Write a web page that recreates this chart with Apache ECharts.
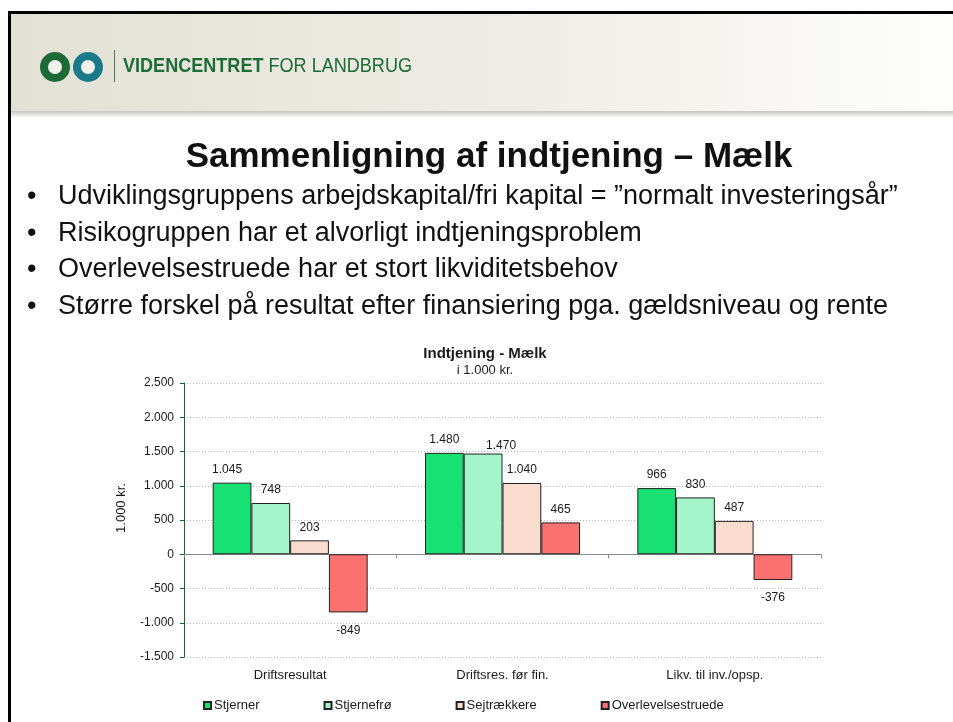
<!DOCTYPE html>
<html><head><meta charset="utf-8">
<script src="https://cdn.jsdelivr.net/npm/echarts@6/dist/echarts.min.js"></script>
<style>html,body{margin:0;padding:0;background:#fff;}#c{width:953px;height:722px;}</style>
</head><body><div id="c"></div>
<script>
// ---- data ----
const categories = ['Driftsresultat', 'Driftsres. før fin.', 'Likv. til inv./opsp.'];
const seriesNames = ['Stjerner', 'Stjernefrø', 'Sejtrækkere', 'Overlevelsestruede'];
const stjerner = [1045, 1480, 966];
const stjernefro = [748, 1470, 830];
const sejtraekkere = [203, 1040, 487];
const overlevelsestruede = [-849, 465, -376];
const yMin = -1500, yMax = 2500, yStep = 500;
const chartTitle = 'Indtjening - Mælk';
const chartSubtitle = 'i 1.000 kr.';
const yAxisName = '1.000 kr.';
const slideTitle = 'Sammenligning af indtjening – Mælk';
const bullets = [
  'Udviklingsgruppens arbejdskapital/fri kapital = ”normalt investeringsår”',
  'Risikogruppen har et alvorligt indtjeningsproblem',
  'Overlevelsestruede har et stort likviditetsbehov',
  'Større forskel på resultat efter finansiering pga. gældsniveau og rente'
];
const headerBold = 'VIDENCENTRET';
const headerRegular = ' FOR LANDBRUG';

// ---- styles ----
const colors = ['#19e072', '#a4f5c9', '#f9dccd', '#fd7171'];
const FONT = '"Liberation Sans", Arial, sans-serif';
const labelNudge = { '0-0': [-5, 0], '1-1': [18, 5] }; // series-index: [dx, dy]

function fmt(v) {
  const s = String(Math.abs(v)).replace(/\B(?=(\d{3})+(?!\d))/g, '.');
  return (v < 0 ? '-' : '') + s;
}

const allValues = [stjerner, stjernefro, sejtraekkere, overlevelsestruede];

const series = allValues.map((vals, si) => ({
  name: seriesNames[si],
  type: 'bar',
  xAxisIndex: 0,
  barGap: '0%',
  barCategoryGap: '27%',
  itemStyle: { color: colors[si], borderColor: '#222', borderWidth: 1 },
  data: vals.map((v, i) => {
    const nudge = labelNudge[si + '-' + i] || [0, 0];
    return {
      value: v,
      label: {
        position: v < 0 ? 'bottom' : 'top',
        distance: v < 0 ? 12 : 7,
        offset: nudge
      }
    };
  }),
  label: {
    show: true,
    formatter: p => fmt(p.value),
    fontFamily: FONT, fontSize: 12, color: '#1a1a1a'
  }
}));

const bulletGraphics = [];
bullets.forEach((b, i) => {
  const cy = 197 + i * 36.4;
  bulletGraphics.push({ type: 'text', x: 27, y: cy, style: { text: '•', font: '27px ' + FONT, fill: '#111', verticalAlign: 'middle' } });
  bulletGraphics.push({ type: 'text', x: 58, y: cy, style: { text: b, font: '27px ' + FONT, fill: '#111', verticalAlign: 'middle' } });
});

const chart = echarts.init(document.getElementById('c'), null, { renderer: 'canvas' });
chart.setOption({
  animation: false,
  backgroundColor: '#fff',
  textStyle: { fontFamily: FONT },
  title: {
    text: chartTitle, subtext: chartSubtitle,
    left: 480, top: 341, textAlign: 'center', itemGap: 3,
    textStyle: { fontFamily: FONT, fontSize: 15, fontWeight: 'bold', color: '#1a1a1a' },
    subtextStyle: { fontFamily: FONT, fontSize: 13, color: '#1a1a1a' }
  },
  legend: {
    data: seriesNames, left: 198, top: 694, icon: 'rect',
    itemWidth: 7, itemHeight: 7, itemGap: 64,
    textStyle: { fontFamily: FONT, fontSize: 13, color: '#1a1a1a', padding: [0, 0, 0, -2] }
  },
  grid: { left: 184, right: 132, top: 383, bottom: 65, containLabel: false },
  xAxis: [
    {
      type: 'category', data: categories, position: 'bottom',
      axisLine: { onZero: true, lineStyle: { color: '#888', width: 1 } },
      axisTick: { show: true, length: 4, lineStyle: { color: '#888' } },
      axisLabel: { show: false }, splitLine: { show: false }
    },
    {
      type: 'category', data: categories, position: 'bottom',
      axisLine: { show: false, onZero: false }, axisTick: { show: false },
      axisLabel: { show: true, fontFamily: FONT, fontSize: 13, color: '#1a1a1a', margin: 12 },
      splitLine: { show: false }
    }
  ],
  yAxis: {
    type: 'value', min: yMin, max: yMax, interval: yStep,
    axisLine: { show: true, lineStyle: { color: '#0b6a31', width: 1 } },
    axisTick: { show: true, length: 4, lineStyle: { color: '#0b6a31' } },
    axisLabel: { formatter: v => fmt(v), fontFamily: FONT, fontSize: 12, color: '#1a1a1a', margin: 10 },
    splitLine: { show: true, lineStyle: { color: '#b8b8b8', type: [1, 2], width: 1 } }
  },
  series: series,
  graphic: [
    // header band
    { type: 'rect', shape: { x: 10, y: 13, width: 943, height: 100 }, silent: true, z: -10,
      style: { fill: new echarts.graphic.LinearGradient(0, 0, 1, 0, [
        { offset: 0, color: '#e3e1d6' }, { offset: 0.55, color: '#eeede5' }, { offset: 1, color: '#fefefd' }]) } },
    { type: 'rect', shape: { x: 10, y: 111, width: 943, height: 7 }, silent: true, z: -9,
      style: { fill: new echarts.graphic.LinearGradient(0, 0, 0, 1, [
        { offset: 0, color: '#c6c6c0' }, { offset: 1, color: '#ffffff' }]) } },
    // border
    { type: 'rect', shape: { x: 8, y: 11, width: 945, height: 3 }, style: { fill: '#000' }, z: 10 },
    { type: 'rect', shape: { x: 8, y: 11, width: 3, height: 711 }, style: { fill: '#000' }, z: 10 },
    // logo
    { type: 'circle', shape: { cx: 55, cy: 67, r: 11 }, style: { fill: '#f2f2ec', stroke: '#1d6a36', lineWidth: 8 }, z: 5 },
    { type: 'circle', shape: { cx: 88, cy: 67, r: 11 }, style: { fill: '#f2f2ec', stroke: '#1b7a8a', lineWidth: 8 }, z: 5 },
    { type: 'line', shape: { x1: 114.5, y1: 50, x2: 114.5, y2: 82 }, style: { stroke: '#4f7d55', lineWidth: 1 }, z: 5 },
    { type: 'text', x: 123, y: 66, scaleX: 0.86, z: 5, style: {
        text: '{b|' + headerBold + '}{n|' + headerRegular + '}', verticalAlign: 'middle',
        rich: { b: { font: 'bold 21px ' + FONT, fill: '#1d6b35' }, n: { font: '21px ' + FONT, fill: '#1d6b35' } } } },
    // slide title
    { type: 'text', x: 489, y: 157, style: { text: slideTitle, font: 'bold 35px ' + FONT, fill: '#111', align: 'center', verticalAlign: 'middle' } },
    // y axis name
    { type: 'text', x: 121, y: 508, rotation: Math.PI / 2, style: { text: yAxisName, font: '13px ' + FONT, fill: '#1a1a1a', align: 'center', verticalAlign: 'middle' } }
  ].concat(bulletGraphics)
});
</script>
</body></html>
